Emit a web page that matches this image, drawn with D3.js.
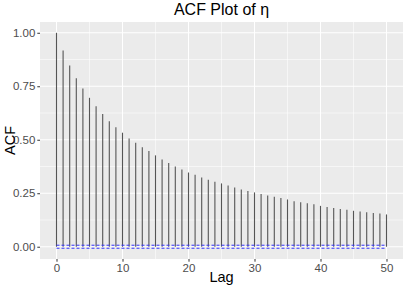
<!DOCTYPE html>
<html>
<head>
<meta charset="utf-8">
<script src="https://cdn.jsdelivr.net/npm/d3@7"></script>
<style>
  body { margin: 0; background: #fff; }
  text { font-family: "Liberation Sans", Arial, sans-serif; }
</style>
</head>
<body>
<div id="chart"></div>
<script>
// acf values, lag 0..50
var lags = d3.range(0, 51);
var acf = [1.000, 0.917, 0.847, 0.788, 0.740, 0.696, 0.656, 0.620, 0.587, 0.559,
           0.533, 0.506, 0.486, 0.465, 0.447, 0.427, 0.408, 0.391, 0.375, 0.361,
           0.347, 0.336, 0.323, 0.313, 0.304, 0.296, 0.286, 0.277, 0.268, 0.260,
           0.254, 0.246, 0.240, 0.234, 0.228, 0.221, 0.213, 0.208, 0.203, 0.198,
           0.191, 0.186, 0.181, 0.176, 0.173, 0.168, 0.165, 0.161, 0.158, 0.155,
           0.151];
var ci = 0.007;
var xTicks = [0, 10, 20, 30, 40, 50];
var xMinor = [5, 15, 25, 35, 45];
var yTicks = [0, 0.25, 0.5, 0.75, 1.0];
var yMinor = [0.125, 0.375, 0.625, 0.875];

var width = 405, height = 287;
var margin = {top: 22, right: 2, bottom: 28, left: 40};

var svg = d3.select("#chart")
  .append("svg")
  .attr("width", width)
  .attr("height", height);

var x = d3.scaleLinear()
  .domain([-2.5, 52.5])
  .range([margin.left, width - margin.right]);

var ymin = -ci, ymax = 1;
var pad = (ymax - ymin) * 0.05;
var y = d3.scaleLinear()
  .domain([ymin - pad, ymax + pad])
  .range([height - margin.bottom, margin.top]);

// panel
svg.append("rect")
  .attr("x", margin.left).attr("y", margin.top)
  .attr("width", width - margin.left - margin.right)
  .attr("height", height - margin.top - margin.bottom)
  .attr("fill", "#ebebeb");

var grid = svg.append("g");
grid.selectAll(".ymin").data(yMinor).enter().append("line")
  .attr("x1", margin.left).attr("x2", width - margin.right)
  .attr("y1", d => y(d)).attr("y2", d => y(d))
  .attr("stroke", "#fff").attr("stroke-width", 0.55);
grid.selectAll(".xmin").data(xMinor).enter().append("line")
  .attr("y1", margin.top).attr("y2", height - margin.bottom)
  .attr("x1", d => x(d)).attr("x2", d => x(d))
  .attr("stroke", "#fff").attr("stroke-width", 0.55);
grid.selectAll(".ymaj").data(yTicks).enter().append("line")
  .attr("x1", margin.left).attr("x2", width - margin.right)
  .attr("y1", d => y(d)).attr("y2", d => y(d))
  .attr("stroke", "#fff").attr("stroke-width", 1.1);
grid.selectAll(".xmaj").data(xTicks).enter().append("line")
  .attr("y1", margin.top).attr("y2", height - margin.bottom)
  .attr("x1", d => x(d)).attr("x2", d => x(d))
  .attr("stroke", "#fff").attr("stroke-width", 1.1);

// acf spikes
svg.append("g").selectAll("line")
  .data(lags).enter().append("line")
  .attr("x1", d => x(d)).attr("x2", d => x(d))
  .attr("y1", y(0)).attr("y2", (d, i) => y(acf[i]))
  .attr("stroke", "#555555")
  .attr("stroke-width", 1.1);

// confidence bounds
svg.append("g").selectAll("line")
  .data([ci, -ci]).enter().append("line")
  .attr("x1", x(0)).attr("x2", x(50))
  .attr("y1", d => y(d)).attr("y2", d => y(d))
  .attr("stroke", "#3333ff")
  .attr("stroke-width", 1)
  .attr("stroke-dasharray", "3,2");

// axes
var xAxis = svg.append("g")
  .attr("transform", "translate(0," + (height - margin.bottom) + ")")
  .call(d3.axisBottom(x).tickValues(xTicks).tickSize(2.7).tickPadding(2).tickFormat(d3.format("d")));
var yAxis = svg.append("g")
  .attr("transform", "translate(" + margin.left + ",0)")
  .call(d3.axisLeft(y).tickValues(yTicks).tickSize(2.7).tickPadding(2).tickFormat(d3.format(".2f")));

[xAxis, yAxis].forEach(function(a){
  a.select(".domain").remove();
  a.selectAll(".tick line").attr("stroke", "#333333");
  a.selectAll(".tick text").attr("fill", "#4d4d4d").style("font-size", "11.5px");
});

// titles
svg.append("text")
  .attr("x", (margin.left + width - margin.right) / 2)
  .attr("y", 15)
  .attr("text-anchor", "middle")
  .style("font-size", "16px")
  .attr("fill", "#000")
  .text("ACF Plot of η");

svg.append("text")
  .attr("x", (margin.left + width - margin.right) / 2)
  .attr("y", 282)
  .attr("text-anchor", "middle")
  .style("font-size", "14.5px")
  .attr("fill", "#000")
  .text("Lag");

svg.append("text")
  .attr("transform", "translate(15," + ((margin.top + height - margin.bottom) / 2) + ") rotate(-90)")
  .attr("text-anchor", "middle")
  .style("font-size", "14.5px")
  .attr("fill", "#000")
  .text("ACF");
</script>
</body>
</html>
